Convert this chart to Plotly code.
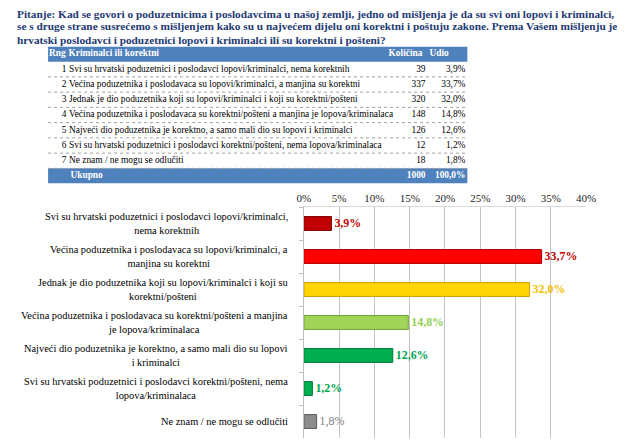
import plotly.graph_objects as go

# ---------------- data ----------------
title_lines = [
    "Pitanje: Kad se govori o poduzetnicima i poslodavcima u našoj zemlji, jedno od mišljenja je da su svi oni lopovi i kriminalci, dok",
    "se s druge strane susrećemo s mišljenjem kako su u najvećem dijelu oni korektni i poštuju zakone. Prema Vašem mišljenju jesu li",
    "hrvatski poslodavci i poduzetnici lopovi i kriminalci ili su korektni i pošteni?",
]
table_header = ["Rng", "Kriminalci ili korektni", "Količina", "Udio"]
rng = [1, 2, 3, 4, 5, 6, 7]
answers = [
    "Svi su hrvatski poduzetnici i poslodavci lopovi/kriminalci, nema korektnih",
    "Većina poduzetnika i poslodavaca su lopovi/kriminalci, a manjina su korektni",
    "Jednak je dio poduzetnika koji su lopovi/kriminalci i koji su korektni/pošteni",
    "Većina poduzetnika i poslodavaca su korektni/pošteni a manjina je lopova/kriminalaca",
    "Najveći dio poduzetnika je korektno, a samo mali dio su lopovi i kriminalci",
    "Svi su hrvatski poduzetnici i poslodavci korektni/pošteni, nema lopova/kriminalaca",
    "Ne znam / ne mogu se odlučiti",
]
counts = [39, 337, 320, 148, 126, 12, 18]
shares = [3.9, 33.7, 32.0, 14.8, 12.6, 1.2, 1.8]
total_label = "Ukupno"
total_count = 1000
total_share = 100.0

chart_labels = [
    "Svi su hrvatski poduzetnici i poslodavci lopovi/kriminalci,<br>nema korektnih",
    "Većina poduzetnika i poslodavaca su lopovi/kriminalci, a<br>manjina su korektni",
    "Jednak je dio poduzetnika koji su lopovi/kriminalci i koji su<br>korektni/pošteni",
    "Većina poduzetnika i poslodavaca su korektni/pošteni a manjina<br>je lopova/kriminalaca",
    "Najveći dio poduzetnika je korektno, a samo mali dio su lopovi<br>i kriminalci",
    "Svi su hrvatski poduzetnici i poslodavci korektni/pošteni, nema<br>lopova/kriminalaca",
    "Ne znam / ne mogu se odlučiti",
]
x_ticks = [0, 0.05, 0.10, 0.15, 0.20, 0.25, 0.30, 0.35, 0.40]

# ---------------- styles ----------------
bar_colors = ["#C00000", "#FF0000", "#FFD400", "#A2D45A", "#00B050", "#00B050", "#8C8C8C"]
bar_edges = ["#7A0000", "#B00000", "#C9A000", "#6E9E30", "#007A38", "#007A38", "#595959"]
label_colors = ["#C00000", "#C00000", "#F2C200", "#92D050", "#00A650", "#00A650", "#808080"]
label_bold = [True, True, True, True, True, True, False]
SERIF = "Liberation Serif, Times New Roman, serif"
BLUE = "#4F81BD"
TITLE_C = "#1F3A73"

W, H = 625, 444
# the page places the figure 8px right/down of the window corner
OFF = 8

def px(xp):  # page x -> paper fraction
    return (xp - OFF) / W

def py(yp):  # page y -> paper fraction
    return 1 - (yp - OFF) / H

def fmt_pct(v):
    return f"{v:.1f}".replace(".", ",") + "%"

fig = go.Figure()

# ---------------- bar chart ----------------
bar_text = [("<b>%s</b>" % fmt_pct(v)) if b else fmt_pct(v) for v, b in zip(shares, label_bold)]
fig.add_trace(go.Bar(
    y=chart_labels, x=[s / 100 for s in shares], orientation="h",
    marker=dict(color=bar_colors, line=dict(color=bar_edges, width=1)),
    width=0.42,
    text=bar_text, textposition="outside",
    textfont=dict(family=SERIF, size=12, color=label_colors),
    cliponaxis=False, hoverinfo="skip", showlegend=False,
    xaxis="x", yaxis="y",
))

for lab in chart_labels:
    fig.add_annotation(
        x=px(291), xref="paper", y=lab, yref="y",
        text=lab, showarrow=False, xanchor="right", yanchor="middle", align="center",
        font=dict(family=SERIF, size=10.4, color="#000000"),
    )

# ---------------- table (x2 in page pixels) ----------------
TX0, TX1 = 42, 473
rows_y = list(range(1, len(answers) + 1))
total_y = len(answers) + 1

for yy in (0, total_y):
    fig.add_shape(type="rect", xref="x2", yref="y2", x0=TX0, x1=TX1, y0=yy - 0.5, y1=yy + 0.5,
                  fillcolor=BLUE, line=dict(width=0), layer="below")
for yy in rows_y:
    fig.add_shape(type="line", xref="x2", yref="y2", x0=TX0, x1=TX1, y0=yy + 0.5, y1=yy + 0.5,
                  line=dict(color="#A0A0A0", width=1, dash="dot"), layer="below")

tf = dict(family=SERIF, size=9.4, color="#000000")
tfh = dict(family=SERIF, size=9.4, color="#FFFFFF", weight="bold")

def txt(xs, ys, texts, pos, font):
    fig.add_trace(go.Scatter(x=xs, y=ys, mode="text", text=texts, textposition=pos, textfont=font,
                             xaxis="x2", yaxis="y2", hoverinfo="skip", showlegend=False,
                             cliponaxis=False))

txt([43, 63, 392, 434], [0, 0, 0, 0], table_header, "middle right", tfh)
txt([61] * len(rng), rows_y, [str(r) for r in rng], "middle left", tf)
txt([63.5] * len(answers), rows_y, answers, "middle right", tf)
txt([430] * len(counts), rows_y, [str(c) for c in counts], "middle left", tf)
txt([471] * len(shares), rows_y, [fmt_pct(s) for s in shares], "middle left", tf)
txt([65], [total_y], [total_label], "middle right", tfh)
txt([430, 471], [total_y, total_y], [str(total_count), fmt_pct(total_share)], "middle left", tfh)

# ---------------- title ----------------
for i, line in enumerate(title_lines):
    fig.add_annotation(
        x=0, xref="paper", y=py(13.5 + 13 * i), yref="paper",
        text="<b>%s</b>" % line, showarrow=False, xanchor="left", yanchor="middle", align="left",
        font=dict(family=SERIF, size=11.3, color=TITLE_C),
    )

# ---------------- layout ----------------
fig.update_layout(
    width=W, height=H,
    margin=dict(l=0, r=0, t=0, b=0),
    paper_bgcolor="#FFFFFF", plot_bgcolor="#FFFFFF",
    separators=",.",
    font=dict(family=SERIF),
    xaxis=dict(
        domain=[px(305), px(595)], range=[0, 0.40], side="top",
        tickvals=x_ticks, tickformat=".0%",
        showgrid=True, gridcolor="#C4C4C4", gridwidth=1,
        showline=True, linecolor="#D9D9D9", zeroline=False,
        ticks="", tickfont=dict(family=SERIF, size=11, color="#222222"),
        fixedrange=True, anchor="y",
    ),
    yaxis=dict(
        domain=[py(438), py(207)], autorange="reversed",
        type="category", showticklabels=False,
        ticks="outside", tickson="boundaries", ticklen=4, tickcolor="#BFBFBF",
        showline=True, linecolor="#BFBFBF", showgrid=False, zeroline=False,
        fixedrange=True, anchor="x",
    ),
    xaxis2=dict(domain=[0, 1], range=[OFF, W + OFF], visible=False, fixedrange=True, anchor="y2"),
    yaxis2=dict(domain=[py(183.6), py(46.4)], range=[8.5, -0.5], visible=False,
                fixedrange=True, anchor="x2"),
)

fig.write_html("out.html")
